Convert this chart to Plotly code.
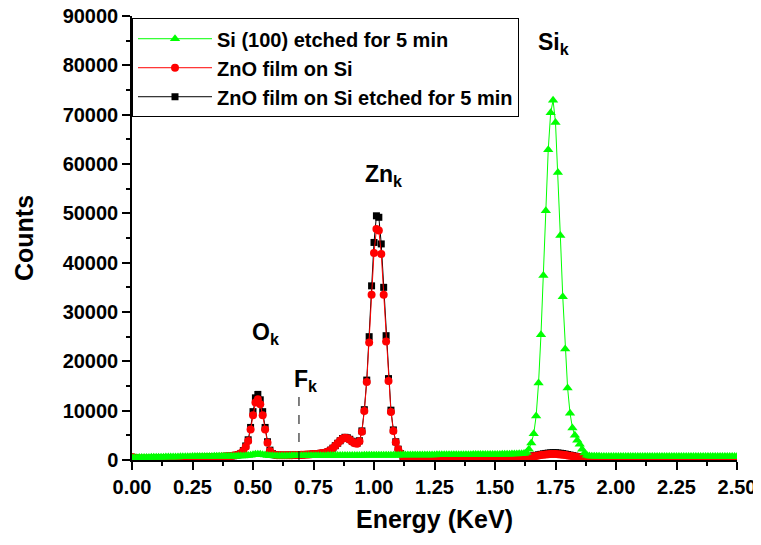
import plotly.graph_objects as go

# Energy channels (KeV), 0.01 KeV per channel from 0.00 to 2.50
energy = [round(0.01 * i, 2) for i in range(251)]

# Si (100) etched for 5 min
si_etched = [
    450, 470, 480, 500, 490, 510, 520, 530, 540, 550,
    560, 570, 570, 580, 590, 600, 600, 610, 620, 630,
    640, 650, 660, 670, 680, 690, 700, 700, 710, 710,
    720, 720, 730, 730, 740, 740, 750, 750, 760, 760,
    770, 770, 780, 780, 790, 800, 820, 850, 900, 980,
    1080, 1150, 1180, 1150, 1080, 1000, 930, 880, 850, 830,
    820, 820, 820, 830, 830, 830, 840, 840, 840, 850,
    850, 850, 860, 860, 860, 870, 870, 870, 880, 880,
    880, 890, 890, 890, 900, 900, 900, 910, 910, 910,
    920, 920, 920, 930, 930, 930, 940, 940, 940, 950,
    950, 950, 960, 960, 960, 970, 970, 970, 980, 980,
    980, 990, 990, 990, 1000, 1000, 1000, 1010, 1010, 1010,
    1020, 1020, 1020, 1030, 1030, 1030, 1040, 1040, 1040, 1050,
    1050, 1050, 1060, 1060, 1060, 1070, 1070, 1070, 1080, 1080,
    1080, 1090, 1090, 1100, 1100, 1100, 1110, 1110, 1120, 1120,
    1130, 1130, 1140, 1150, 1160, 1170, 1180, 1200, 1220, 1240,
    1250, 1280, 1320, 1500, 2200, 3450, 5300, 8900, 15600, 25400,
    37400, 50500, 62900, 70400, 72900, 68400, 58300, 45500, 33100, 22500,
    14600, 9500, 6500, 5000, 4000, 3200, 2200, 1400, 950, 800,
    760, 750, 740, 740, 730, 730, 730, 720, 720, 720,
    720, 710, 710, 710, 710, 700, 700, 700, 700, 700,
    700, 690, 700, 700, 690, 700, 700, 690, 700, 700,
    700, 690, 700, 700, 690, 700, 700, 690, 700, 700,
    700, 690, 700, 700, 690, 700, 700, 690, 700, 700,
    700, 690, 700, 700, 690, 700, 700, 690, 700, 700,
    700,
]

# ZnO film on Si
zno_film = [
    600, 450, 350, 320, 300, 300, 310, 310, 320, 320,
    330, 330, 340, 350, 350, 360, 370, 380, 390, 400,
    410, 420, 430, 440, 450, 460, 480, 490, 500, 520,
    530, 550, 570, 590, 610, 630, 650, 680, 710, 740,
    780, 830, 890, 960, 1100, 1350, 1830, 2700, 3850, 6200,
    9070, 11650, 12300, 11300, 9070, 6200, 3500, 1830, 1250, 1050,
    980, 950, 940, 940, 950, 960, 970, 990, 1010, 1030,
    1050, 1080, 1100, 1130, 1160, 1200, 1240, 1290, 1350, 1420,
    1500, 1700, 2000, 2400, 2900, 3400, 3900, 4300, 4500, 4400,
    4100, 3700, 3400, 3300, 3800, 5750, 9950, 15800, 23800, 33500,
    41950, 46800, 46500, 41750, 33500, 24000, 16000, 9750, 5900, 3600,
    2200, 1300, 700, 400, 300, 250, 230, 220, 210, 200,
    200, 200, 190, 190, 190, 180, 180, 180, 180, 180,
    180, 180, 180, 180, 180, 180, 190, 190, 190, 190,
    190, 190, 200, 200, 200, 200, 210, 210, 210, 220,
    220, 230, 230, 240, 250, 260, 270, 290, 310, 340,
    370, 410, 460, 520, 590, 670, 750, 830, 910, 990,
    1060, 1120, 1170, 1200, 1220, 1210, 1180, 1130, 1070, 1000,
    920, 840, 760, 690, 620, 560, 510, 470, 440, 420,
    410, 400, 400, 400, 400, 400, 400, 400, 400, 400,
    400, 400, 400, 400, 400, 400, 400, 400, 400, 400,
    400, 400, 400, 400, 400, 400, 400, 400, 400, 400,
    400, 400, 400, 400, 400, 400, 400, 400, 400, 400,
    400, 400, 400, 400, 400, 400, 400, 400, 400, 400,
    400, 400, 400, 400, 400, 400, 400, 400, 400, 400,
    400,
]

# ZnO film on Si etched for 5 min
zno_etched = [
    550, 420, 340, 310, 300, 300, 300, 310, 310, 320,
    320, 330, 340, 340, 350, 360, 370, 370, 380, 390,
    400, 410, 420, 430, 440, 450, 460, 480, 490, 500,
    520, 540, 560, 580, 600, 620, 640, 670, 700, 730,
    770, 820, 880, 950, 1080, 1330, 1900, 2850, 4100, 6600,
    9800, 12600, 13300, 12200, 9800, 6600, 3700, 2000, 1300, 1060,
    980, 950, 940, 940, 950, 960, 970, 990, 1010, 1030,
    1050, 1080, 1100, 1130, 1160, 1200, 1240, 1290, 1350, 1420,
    1500, 1700, 2000, 2400, 2900, 3400, 3900, 4350, 4600, 4500,
    4200, 3800, 3500, 3400, 3900, 5900, 10200, 16200, 25000, 35300,
    44100, 49500, 49200, 43800, 35000, 25200, 16500, 10100, 6100, 3700,
    2200, 1300, 700, 400, 300, 250, 230, 220, 210, 200,
    200, 200, 190, 190, 190, 180, 180, 180, 180, 180,
    180, 180, 180, 180, 180, 180, 190, 190, 190, 190,
    190, 190, 200, 200, 200, 200, 210, 210, 210, 220,
    220, 230, 230, 240, 250, 260, 270, 290, 310, 340,
    400, 450, 510, 580, 660, 750, 850, 950, 1050, 1150,
    1250, 1330, 1400, 1450, 1480, 1470, 1430, 1370, 1300, 1210,
    1110, 1000, 900, 800, 710, 630, 560, 510, 470, 440,
    420, 420, 420, 420, 420, 420, 420, 420, 420, 420,
    420, 420, 420, 420, 420, 420, 420, 420, 420, 420,
    420, 420, 420, 420, 420, 420, 420, 420, 420, 420,
    420, 420, 420, 420, 420, 420, 420, 420, 420, 420,
    420, 420, 420, 420, 420, 420, 420, 420, 420, 420,
    420, 420, 420, 420, 420, 420, 420, 420, 420, 420,
    420,
]

series_names = ["Si (100) etched for 5 min", "ZnO film on Si",
                "ZnO film on Si etched for 5 min"]

# Peak labels: (text, energy, counts)
peak_labels = [
    ("Si<sub>k</sub>", 1.670, 84500),
    ("Zn<sub>k</sub>", 0.955, 57700),
    ("O<sub>k</sub>", 0.488, 25700),
    ("F<sub>k</sub>", 0.661, 16200),
]
f_line_energy = 0.69
f_line_top = 13000

FONT = "Liberation Sans, Arial, sans-serif"

fig = go.Figure()
fig.add_trace(go.Scatter(
    x=energy, y=zno_etched, name=series_names[2], mode="lines+markers",
    line=dict(color="black", width=1),
    marker=dict(symbol="square", size=7, color="black"),
))
fig.add_trace(go.Scatter(
    x=energy, y=zno_film, name=series_names[1], mode="lines+markers",
    line=dict(color="#ff0000", width=1),
    marker=dict(symbol="circle", size=8, color="#ff0000"),
))
fig.add_trace(go.Scatter(
    x=energy, y=si_etched, name=series_names[0], mode="lines+markers",
    line=dict(color="#00ff00", width=1),
    marker=dict(symbol="triangle-up", size=9, color="#00ff00"),
))

for text, ex, cy in peak_labels:
    fig.add_annotation(x=ex, y=cy, text=text, showarrow=False,
                       xanchor="left", yanchor="middle",
                       font=dict(family=FONT, size=23, color="black", weight="bold"))

fig.add_shape(type="line", x0=f_line_energy, x1=f_line_energy, y0=0, y1=f_line_top,
              xref="x", yref="y", line=dict(color="black", width=1, dash="dash"))

# The page body adds an 8px offset, so the figure is made 8px smaller
fig.update_layout(
    width=753, height=537,
    margin=dict(l=124, r=24, t=8, b=85, autoexpand=False),
    paper_bgcolor="white", plot_bgcolor="white",
    font=dict(family=FONT, size=20, color="black", weight="bold"),
    showlegend=True,
    legend=dict(
        x=0, y=0.995, xanchor="left", yanchor="top",
        bordercolor="black", borderwidth=1, bgcolor="white",
        traceorder="reversed", itemwidth=74,
        font=dict(family=FONT, size=20, color="black", weight="bold"),
        tracegroupgap=0,
    ),
    xaxis=dict(
        range=[0, 2.5], dtick=0.25, tick0=0, tickformat=".2f", automargin=False,
        ticklabeloverflow="allow",
        showline=True, linecolor="black", linewidth=1.5,
        ticks="outside", ticklen=8, tickwidth=1.5, tickcolor="black",
        minor=dict(dtick=0.125, ticks="outside", ticklen=4, tickwidth=1.5, tickcolor="black"),
        showgrid=False, zeroline=False,
        tickfont=dict(family=FONT, size=20, color="black", weight="bold"),
        title=dict(text="Energy (KeV)", standoff=14,
                   font=dict(family=FONT, size=25, color="black", weight="bold")),
    ),
    yaxis=dict(
        range=[0, 90000], dtick=10000, tick0=0, tickformat="d", automargin=False,
        ticklabeloverflow="allow",
        showline=True, linecolor="black", linewidth=1.5,
        ticks="outside", ticklen=8, tickwidth=1.5, tickcolor="black",
        minor=dict(dtick=5000, ticks="outside", ticklen=4, tickwidth=1.5, tickcolor="black"),
        showgrid=False, zeroline=False,
        tickfont=dict(family=FONT, size=20, color="black", weight="bold"),
        title=dict(text="Counts", standoff=22,
                   font=dict(family=FONT, size=25, color="black", weight="bold")),
    ),
)

fig.write_html("out.html")
